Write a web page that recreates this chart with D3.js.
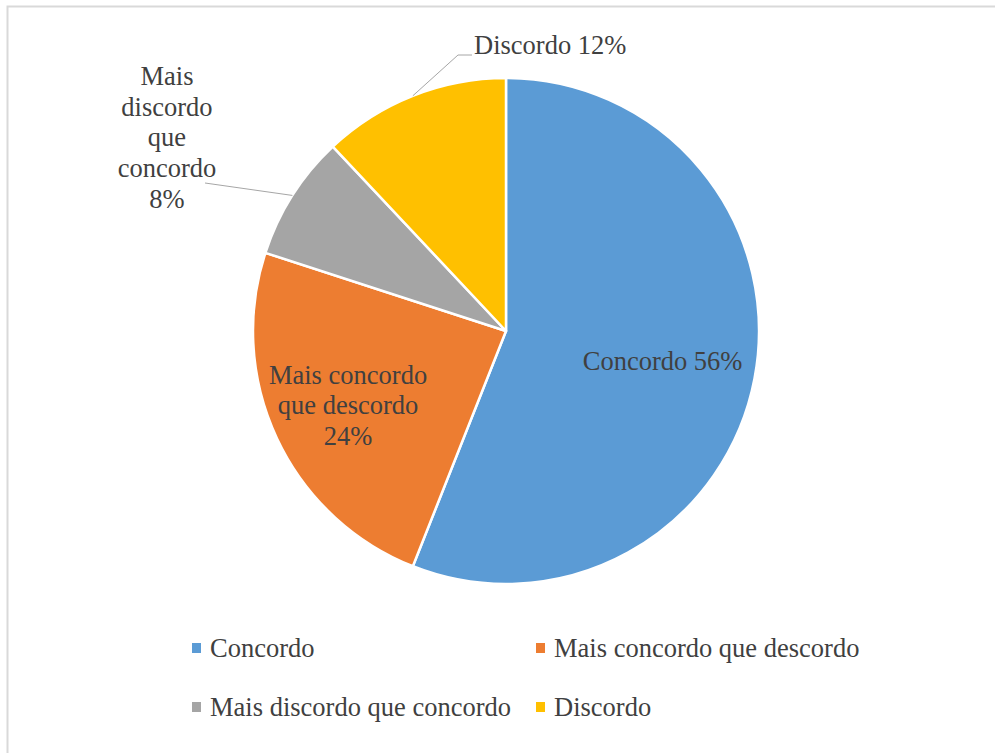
<!DOCTYPE html>
<html>
	<head>
		<meta charset="utf-8">
		<title>Pie chart</title>
		<style>
		body {
			margin: 0;
			background: #fff;
		}
		#chart text {
			font-family: "Liberation Serif", "Times New Roman", serif;
			font-size: 26.5px;
			fill: #404040;
		}
		</style>
		<script src="https://d3js.org/d3.v7.min.js"></script>
	</head>
	<body>
		<svg id="chart" width="995" height="753"></svg>
		<script>
		// chart data
		const categories = ["Concordo", "Mais concordo que descordo", "Mais discordo que concordo", "Discordo"];
		const values = [56, 24, 8, 12];
		const colours = ["#5B9BD5", "#ED7D31", "#A5A5A5", "#FFC000"];
		// label lines as shown on the chart
		const labelLines = [
			["Concordo 56%"],
			["Mais concordo", "que descordo", "24%"],
			["Mais", "discordo", "que", "concordo", "8%"],
			["Discordo 12%"]
		];

		const svg = d3.select("#chart");

		// chart area border
		svg.append("rect")
			.attr("x", 7.5).attr("y", 6.5)
			.attr("width", 1000).attr("height", 760)
			.attr("fill", "none")
			.attr("stroke", "#d9d9d9")
			.attr("stroke-width", 2);

		const cx = 506, cy = 331, r = 253;
		const g = svg.append("g").attr("transform", "translate(" + cx + "," + cy + ")");

		const pie = d3.pie().sort(null).value(d => d);
		const arcs = pie(values);
		const arc = d3.arc().innerRadius(0).outerRadius(r);
		const colour = d3.scaleOrdinal().domain(categories).range(colours);

		// slices
		g.selectAll("path.slice")
			.data(arcs)
			.enter().append("path")
			.attr("class", "slice")
			.attr("d", arc)
			.attr("fill", (d, i) => colour(categories[i]))
			.attr("stroke", "#fff")
			.attr("stroke-width", 2.5)
			.attr("stroke-linejoin", "round");

		// labels inside the slices
		const inside = { 0: 0.63, 1: 0.69 };
		const lineH = 30.5;
		arcs.forEach((d, i) => {
			if (inside[i] === undefined) return;
			const a = (d.startAngle + d.endAngle) / 2;
			const lx = Math.sin(a) * r * inside[i];
			const ly = -Math.cos(a) * r * inside[i];
			const lines = labelLines[i];
			const top = ly - (lines.length - 1) * lineH / 2 + 9;
			const t = g.append("text").attr("text-anchor", "middle");
			lines.forEach((s, k) => {
				t.append("tspan").attr("x", lx).attr("y", top + k * lineH).text(s);
			});
		});

		// outside labels with leader lines
		const edge = d3.arc().innerRadius(r).outerRadius(r);
		// gray slice
		const pGray = edge.centroid(arcs[2]);
		g.append("polyline")
			.attr("points", [[pGray[0], pGray[1]], [205 - cx, 183 - cy]].join(" "))
			.attr("fill", "none").attr("stroke", "#a6a6a6").attr("stroke-width", 1);
		const tGray = svg.append("text").attr("text-anchor", "middle");
		labelLines[2].forEach((s, k) => {
			tGray.append("tspan").attr("x", 167).attr("y", 85 + k * 30.7).text(s);
		});
		// yellow slice
		const pYel = edge.centroid(arcs[3]);
		g.append("polyline")
			.attr("points", [[pYel[0], pYel[1]], [458 - cx, 55 - cy], [472 - cx, 55 - cy]].join(" "))
			.attr("fill", "none").attr("stroke", "#a6a6a6").attr("stroke-width", 1);
		svg.append("text").attr("x", 474).attr("y", 54).text(labelLines[3][0]);

		// legend
		const legX = [192, 536], legY = [648, 707];
		const leg = svg.selectAll("g.legend")
			.data(categories)
			.enter().append("g")
			.attr("class", "legend")
			.attr("transform", (d, i) => "translate(" + legX[i % 2] + "," + legY[Math.floor(i / 2)] + ")");
		leg.append("rect")
			.attr("x", 0).attr("y", -5)
			.attr("width", 9).attr("height", 10)
			.attr("fill", d => colour(d));
		leg.append("text")
			.attr("x", 18).attr("y", 9)
			.text(d => d);
		</script>
	</body>
</html>
